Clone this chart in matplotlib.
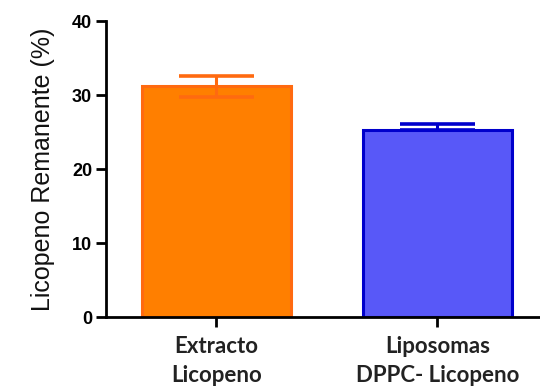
import matplotlib
matplotlib.use("Agg")
import matplotlib.pyplot as plt

categories = ["Extracto\nLicopeno", "Liposomas\nDPPC- Licopeno"]
means = [31.2, 25.3]
err_low = [1.5, 0.0]
err_high = [1.4, 0.8]
fill_colors = ["#FF7F00", "#5858F8"]
edge_colors = ["#FF6A10", "#0000CC"]
yticks = [0, 10, 20, 30, 40]

fig = plt.figure(figsize=(5.4, 3.9), dpi=100)
ax = fig.add_axes([106/540, 1-317/390, 1-106/540, (317-21)/390])

x = list(range(len(categories)))
for i in x:
    ax.bar(i, means[i], width=0.674, color=fill_colors[i], edgecolor=edge_colors[i],
           linewidth=2.2, zorder=2)
    ax.errorbar(i, means[i], yerr=[[err_low[i]], [err_high[i]]], fmt="none",
                ecolor=edge_colors[i], elinewidth=2.2, capsize=27, capthick=2.6, zorder=3)

ax.set_xlim(-0.5, 1.464)
ax.set_ylim(0, 40)
ax.set_yticks(yticks)
ax.set_xticks(x)
ax.set_xticklabels(categories, fontsize=16, fontweight="bold", family="Lato",
                   linespacing=1.45, color="#222222")
for lab in ax.get_yticklabels():
    lab.set_fontweight("bold")
    lab.set_fontsize(13)
    lab.set_family("Liberation Sans")
ax.set_ylabel("Licopeno Remanente (%)", fontsize=18, family="Liberation Sans",
              labelpad=12, color="#111111")

for s in ["top", "right"]:
    ax.spines[s].set_visible(False)
for s in ["left", "bottom"]:
    ax.spines[s].set_linewidth(2)
ax.tick_params(axis="both", width=2, length=7, color="black")
ax.tick_params(axis="y", pad=3)
ax.tick_params(axis="x", pad=7)

fig.savefig("out.png", dpi=100)
